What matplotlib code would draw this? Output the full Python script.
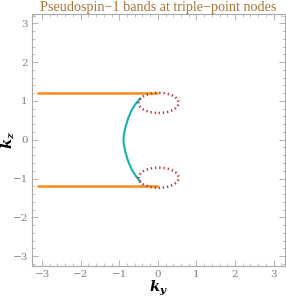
import numpy as np
import matplotlib
matplotlib.use("Agg")
import matplotlib.pyplot as plt
from matplotlib.patches import Ellipse
from matplotlib.ticker import MultipleLocator

plt.rcParams["mathtext.fontset"] = "custom"
plt.rcParams["mathtext.it"] = "DejaVu Serif:italic:bold"
plt.rcParams["mathtext.rm"] = "DejaVu Serif:bold"

# nodal lines (orange) at kz = +-1.2, running from ky = -pi to 0
line_kz = [1.2, -1.2]
line_ky_start = -np.pi
line_ky_end = 0.0

# teal arc joining the two nodes
arc_ky = [-0.46, -0.58, -0.68, -0.77, -0.84, -0.88, -0.89, -0.88, -0.84, -0.77, -0.68, -0.58, -0.46]
arc_kz = [1.06, 0.92, 0.76, 0.55, 0.32, 0.12, 0.0, -0.12, -0.32, -0.55, -0.76, -0.92, -1.08]

# dotted red loops (ellipses) around the triple points
loop_ky = [0.02, 0.02]
loop_kz = [0.95, -0.98]
loop_w = [1.04, 1.04]
loop_h = [0.52, 0.52]

fig = plt.figure(figsize=(2.86, 2.99), dpi=100)
ax = fig.add_axes([0.112, 0.111, 0.885, 0.842])

for kz in line_kz:
    ax.plot([line_ky_start, line_ky_end], [kz, kz], color="#FF8A12", lw=1.8,
            solid_capstyle="butt", zorder=2)

ax.plot(arc_ky, arc_kz, color="#17B0B0", lw=1.5, zorder=3)

for cx, cy, w, h in zip(loop_ky, loop_kz, loop_w, loop_h):
    e = Ellipse((cx, cy), w, h, fill=False, edgecolor="#C0282A", lw=1.8,
                linestyle=(0, (0.5, 1.2)), zorder=4)
    ax.add_patch(e)

ax.set_xlim(-3.26, 3.3)
ax.set_ylim(-3.25, 3.24)

for s in ax.spines.values():
    s.set_color("#a8a8a8")
    s.set_linewidth(0.8)
ax.xaxis.set_minor_locator(MultipleLocator(0.2))
ax.yaxis.set_minor_locator(MultipleLocator(0.2))
ax.tick_params(which="both", direction="in", top=True, right=True, color="#a8a8a8",
               labelcolor="#808080", labelsize=7.5)
ax.tick_params(which="major", length=4, width=0.6, pad=3)
ax.tick_params(which="minor", length=2, width=0.5)

ticks = list(range(-3, 4))
ax.set_xticks(ticks)
ax.set_yticks(ticks)
ax.set_xticklabels([("\u2212" + str(-t)) if t < 0 else str(t) for t in ticks], family="DejaVu Serif")
ax.set_yticklabels([("\u2212" + str(-t)) if t < 0 else str(t) for t in ticks], family="DejaVu Serif")

ax.set_xlabel(r"$k_y$", fontsize=10.5)
ax.set_ylabel(r"$k_z$", fontsize=10.5)
ax.xaxis.set_label_coords(0.5, -0.05)
ax.yaxis.set_label_coords(-0.06, 0.5)
ax.set_title("Pseudospin\u22121 bands at triple\u2212point nodes", fontsize=10.2,
             color="#A87538", family="Liberation Serif", pad=2)

fig.savefig("out.png", dpi=100)
